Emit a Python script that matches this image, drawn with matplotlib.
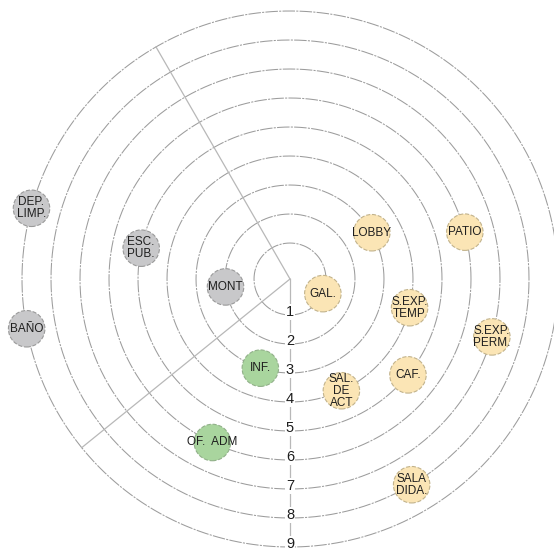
import numpy as np
import matplotlib
matplotlib.use("Agg")
import matplotlib.pyplot as plt

# ---- data ----
names = ["GAL.", "MONT", "LOBBY", "INF.", "S.EXP.\nTEMP", "SAL.\nDE\nACT",
         "ESC.\nPUB.", "CAF.", "OF.  ADM", "PATIO", "S.EXP.\nPERM.",
         "SALA\nDIDA.", "DEP.\nLIMP.", "BAÑO"]
rings = [1, 2, 3, 3, 4, 4, 5, 5, 6, 6, 7, 8, 9, 9]
angles_deg = [-24, 187, 29.5, 251.6, -13.5, -65.3, 168.3, -39.1, 244.6,
              15, -16, -59.4, 164.7, 190.7]
groups = ["pub", "serv", "pub", "adm", "pub", "pub", "serv", "pub", "adm",
          "pub", "pub", "pub", "serv", "serv"]
ring_levels = [1, 2, 3, 4, 5, 6, 7, 8, 9]
ring_labels = ["1", "2", "3", "4", "5", "6", "7", "8", "9"]
divider_angles = [120, 219, 270]

fill = {"pub": "#fbe5b5", "serv": "#c8c8ca", "adm": "#a9d59e"}
edge = {"pub": "#c2b38c", "serv": "#9a9a9a", "adm": "#91b089"}

plt.rcParams['font.family'] = ['Liberation Sans', 'DejaVu Sans']

fig = plt.figure(figsize=(5.54, 5.50), dpi=100)
R = 268
cx, cy = 290, 550 - 279
ax = fig.add_axes([(cx - R) / 554, (cy - R) / 550, 2 * R / 554, 2 * R / 550],
                  projection='polar')
rmin = -0.24
ax.set_ylim(rmin, 9)
ax.grid(False)
ax.set_xticks([])
ax.set_yticks([])
ax.spines['polar'].set_visible(False)
ax.patch.set_alpha(0)

th = np.linspace(0, 2 * np.pi, 721)
for r in ring_levels:
    ax.plot(th, np.full_like(th, r), color="#9c9c9c", lw=0.75,
            ls=(0, (12, 1.2, 2, 1.2)), zorder=1, clip_on=False)

for a in divider_angles:
    t = np.deg2rad(a)
    ax.plot([t, t], [rmin, 9], color="#b8b8b8", lw=0.9, zorder=1, clip_on=False)

for r, lab in zip(ring_levels, ring_labels):
    ax.text(np.deg2rad(270), r - 0.1, lab, ha="center", va="center",
            fontsize=10.5, color="#1e1e1e", zorder=3,
            bbox=dict(boxstyle="square,pad=0.05", fc="white", ec="none"))

thetas = np.deg2rad(angles_deg)
for t, r, g in zip(thetas, rings, groups):
    ax.scatter([t], [r], s=690, c=fill[g], edgecolors=edge[g],
               linewidths=0.8, linestyles="--", zorder=4, clip_on=False)
for t, r, n in zip(thetas, rings, names):
    ax.text(t, r, n, ha="center", va="center", fontsize=8.5,
            color="#1e1e1e", linespacing=1.0, zorder=5)

fig.savefig("out.png", dpi=100)
